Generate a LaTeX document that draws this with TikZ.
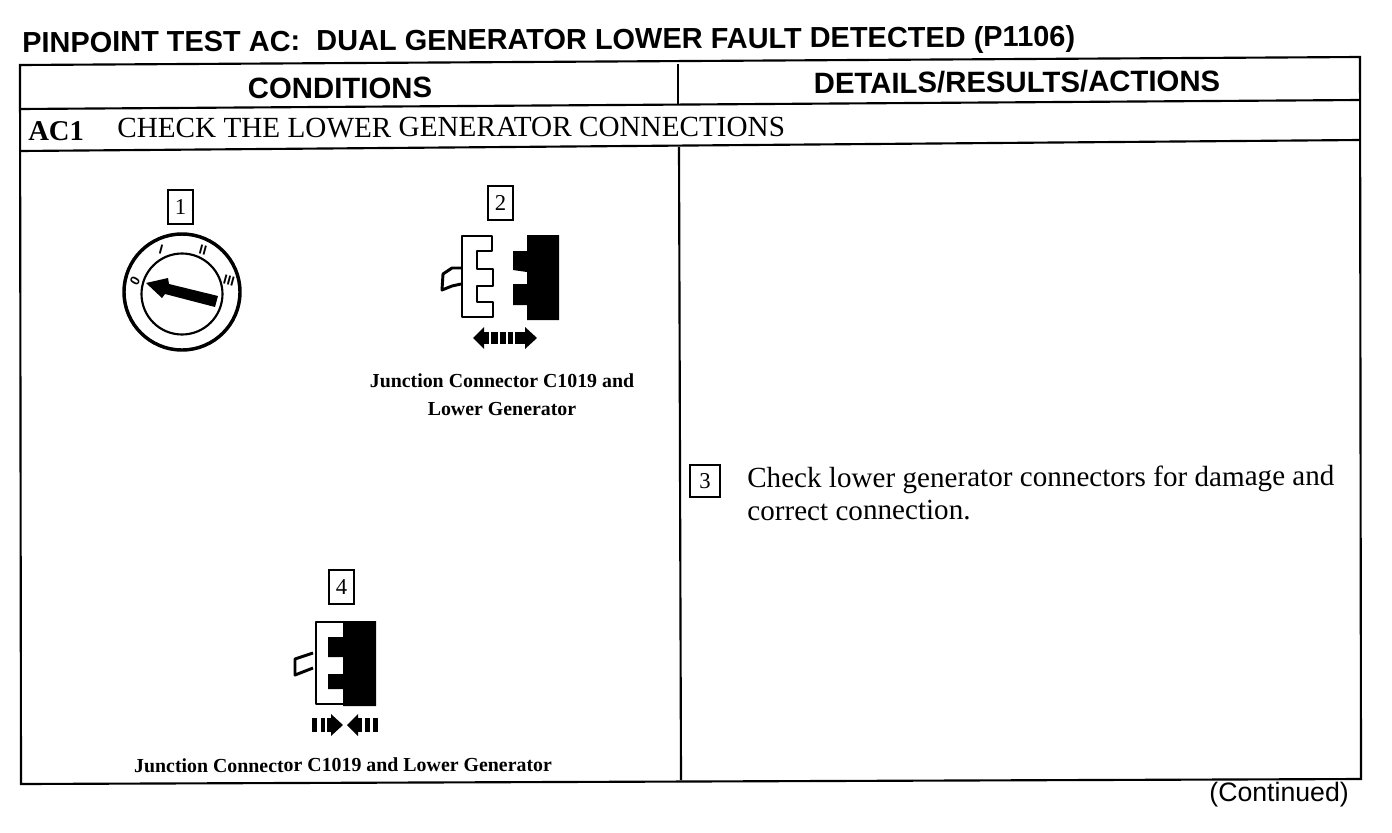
\documentclass[tikz,border=0pt]{standalone}
\usepackage{fontspec}
\setmainfont{Liberation Serif}
\newfontfamily\headfont{Liberation Sans}
\tikzset{
  rule/.style={line width=1.6pt},
  headtext/.style={inner sep=0.75pt,font=\headfont\bfseries\fontsize{22}{24}\selectfont},
  rowtext/.style={inner sep=0.75pt,font=\fontsize{21.9}{24}\selectfont},
  bodytext/.style={inner sep=0.75pt,align=left,font=\fontsize{21.85}{24.5}\selectfont},
  captext/.style={inner sep=0.75pt,align=center,font=\bfseries\fontsize{14.9}{21}\selectfont},
  numbox/.style={draw,line width=1.5pt,inner sep=0pt,font=\fontsize{17}{18}\selectfont},
  dialtext/.style={inner sep=0pt,font=\headfont\bfseries\fontsize{10}{11}\selectfont},
  conn/.style={draw,line width=2.2pt,line join=round}
}
\begin{document}
\begin{tikzpicture}[x=0.75pt,y=0.75pt,yscale=-1,xscale=1]
\useasboundingbox (0,0) rectangle (1392,832);

%Table corners
\coordinate (tl) at (20,65);
\coordinate (tm) at (678,64);
\coordinate (tr) at (1360,57);
\coordinate (hl) at (20,109);
\coordinate (hm) at (678,105);
\coordinate (hr) at (1360,100);
\coordinate (rl) at (20,151);
\coordinate (rm) at (679,147);
\coordinate (rr) at (1360,140);
\coordinate (bl) at (21,784);
\coordinate (bm) at (681,780);
\coordinate (br) at (1361,779);
%Table lines
\draw [rule] (tl) -- (tr) -- (br) -- (bl) -- cycle ;
\draw [rule] (hl) -- (hr) ;
\draw [rule] (rl) -- (rr) ;
\draw [rule] (tm) -- (hm) ;
\draw [rule] (rm) -- (bm) ;

%Shape: Dial
\draw [line width=2.6pt] (182,292) circle [radius=58] ;
\draw [line width=1.6pt] (182,294) circle [radius=40.5] ;
\fill (146,283) -- (168,278) -- (169,284) -- (218,296) -- (215,307) -- (165,294) -- (162,298) -- cycle ;

%Shape: Connector apart
\draw [conn] (461,268) -- (452,268) -- (443,274) -- (442,290) -- (452,286) -- (461,284) ;
\draw [conn] (462,236) -- (492,236) -- (492,251) -- (477,251) -- (477,269) -- (493,269) -- (493,286) -- (477,286) -- (477,302) -- (493,302) -- (493,317) -- (462,317) -- cycle ;
\fill (527,235) -- (559,235) -- (559,320) -- (527,320) -- (527,305) -- (513,305) -- (513,284) -- (527,284) -- (527,272) -- (513,270) -- (513,251) -- (527,251) -- cycle ;
%Shape: Arrow apart
\fill (473,338) -- (484,327) -- (484,349) -- cycle ;
\fill (537,338) -- (525,327) -- (525,349) -- cycle ;
\foreach \xa/\xb in {484/489,491/498,500/506,508/513,515/521,521/525} {
  \fill (\xa,332) rectangle (\xb,344) ;
}

%Shape: Connector together
\draw [conn] (313,653) -- (295,659) -- (295,675) -- (313,668) ;
\draw [conn] (345,622) -- (316,622) -- (316,704) -- (345,704) ;
\fill (343,621) -- (376,621) -- (376,706) -- (343,706) -- (343,689) -- (328,689) -- (328,674) -- (343,674) -- (343,657) -- (328,657) -- (328,637) -- (343,637) -- cycle ;
%Shape: Arrow together
\fill (343,725) -- (331,714) -- (331,736) -- cycle ;
\fill (347,725) -- (358,714) -- (358,736) -- cycle ;
\foreach \xa/\xb in {312/317,321/325,327/331,358/362,365/370,373/378} {
  \fill (\xa,718) rectangle (\xb,732) ;
}

% Text Node
\draw (21,45) node (title) [anchor=west,headtext,rotate=0.33,font=\headfont\bfseries\fontsize{21.7}{24}\selectfont] {PINPOINT TEST AC:\ \ DUAL GENERATOR LOWER FAULT DETECTED (P1106)};
% Text Node
\draw (340,88) node (cond) [headtext,rotate=0.1] {CONDITIONS};
% Text Node
\draw (1017,82) node (det) [headtext,rotate=0.35] {DETAILS/RESULTS/ACTIONS};
% Text Node
\draw (27,131) node (ac) [anchor=west,inner sep=0.75pt,font=\bfseries\fontsize{21.5}{24}\selectfont] {AC1};
% Text Node
\draw (116,128) node (check) [anchor=west,rowtext,rotate=0.1] {CHECK THE LOWER GENERATOR CONNECTIONS};
% Text Node
\draw (180.5,207) node (n1) [numbox,minimum width=18.5pt,minimum height=26pt] {1};
% Text Node
\draw (500.5,203) node (n2) [numbox,minimum width=18.5pt,minimum height=26pt] {2};
% Text Node
\draw (705,481) node (n3) [numbox,minimum width=22pt,minimum height=24pt] {3};
% Text Node
\draw (341.5,587) node (n4) [numbox,minimum width=18.5pt,minimum height=26pt] {4};
% Text Node
\draw (161,250) node (d1) [dialtext,rotate=-15] {I};
% Text Node
\draw (203,250) node (d2) [dialtext,rotate=-15] {II};
% Text Node
\draw (229,281) node (d3) [dialtext,rotate=-15] {III};
% Text Node
\draw (135,281) node (d0) [dialtext,rotate=60] {0};
% Text Node
\draw (502,395) node (cap2) [captext] {Junction Connector C1019 and\\Lower Generator};
% Text Node
\draw (343,765) node (cap4) [captext,rotate=0.2] {Junction Connector C1019 and Lower Generator};
% Text Node
\draw (746,494) node (step3) [anchor=west,bodytext,rotate=0.2] {Check lower generator connectors for damage and\\correct connection.};
% Text Node
\draw (1350,795) node (cont) [anchor=east,inner sep=0.75pt,font=\headfont\fontsize{20}{22}\selectfont] {(Continued)};

\end{tikzpicture}
\end{document}
